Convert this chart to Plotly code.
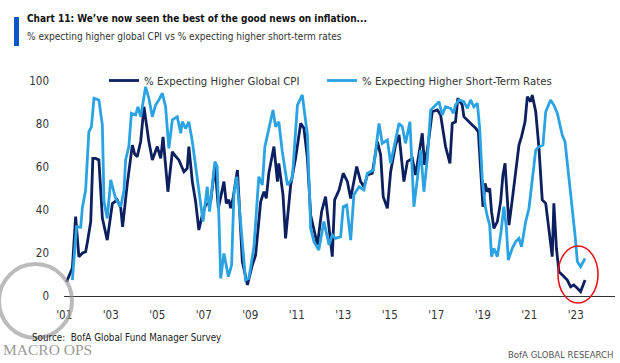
import plotly.graph_objects as go

# --- data (decimal year, % of respondents) ---
cpi_years = [2001.10, 2001.35, 2001.49, 2001.63, 2001.79, 2001.92, 2001.99, 2002.14, 2002.23, 2002.35,
             2002.49, 2002.64, 2002.85, 2003.07, 2003.28, 2003.43, 2003.51, 2003.71, 2003.93, 2004.03,
             2004.14, 2004.29, 2004.43, 2004.54, 2004.64, 2004.79, 2005.00, 2005.15, 2005.25, 2005.46,
             2005.65, 2005.79, 2005.93, 2006.15, 2006.29, 2006.36, 2006.51, 2006.65, 2006.79, 2006.94,
             2007.08, 2007.30, 2007.48, 2007.63, 2007.87, 2007.97, 2008.08, 2008.16, 2008.26, 2008.45,
             2008.66, 2008.88, 2009.09, 2009.23, 2009.45, 2009.59, 2009.69, 2009.80, 2010.02, 2010.17,
             2010.23, 2010.41, 2010.52, 2010.74, 2010.95, 2011.17, 2011.31, 2011.46, 2011.60, 2011.89,
             2012.07, 2012.24, 2012.39, 2012.53, 2012.63, 2012.82, 2013.00, 2013.18, 2013.32, 2013.58,
             2013.75, 2013.89, 2014.04, 2014.25, 2014.47, 2014.61, 2014.72, 2014.90, 2015.04, 2015.25,
             2015.40, 2015.61, 2015.76, 2015.97, 2016.11, 2016.30, 2016.40, 2016.50, 2016.64, 2016.83,
             2017.05, 2017.19, 2017.40, 2017.59, 2017.69, 2017.83, 2017.93, 2018.12, 2018.19, 2018.55,
             2018.70, 2018.81, 2018.91, 2019.01, 2019.10, 2019.20, 2019.30, 2019.38, 2019.48, 2019.63,
             2019.77, 2019.87, 2019.96, 2020.06, 2020.13, 2020.27, 2020.42, 2020.56, 2020.67, 2020.82,
             2020.92, 2021.06, 2021.13, 2021.28, 2021.42, 2021.56, 2021.71, 2021.85, 2021.99, 2022.06,
             2022.17, 2022.28, 2022.49, 2022.64, 2022.78, 2022.92, 2023.07, 2023.21, 2023.40]
cpi_values = [6.6, 13.0, 36.9, 18.3, 20.0, 20.6, 24.6, 34.6, 64.0, 64.0,
              63.3, 36.3, 26.0, 43.0, 44.7, 41.0, 32.2, 52.0, 70.2, 66.0,
              64.8, 72.0, 88.0, 78.0, 71.8, 63.3, 69.5, 64.0, 74.0, 48.5,
              67.1, 65.0, 63.3, 57.8, 59.4, 69.5, 53.2, 44.0, 30.7, 37.7,
              42.3, 43.9, 61.0, 40.8, 53.2, 43.1, 44.7, 40.8, 45.4, 58.6,
              16.0, 5.1, 14.4, 19.0, 43.9, 48.5, 45.4, 57.1, 69.5, 53.2,
              61.7, 47.0, 26.8, 51.6, 64.0, 80.3, 78.0, 64.0, 37.7, 23.7,
              39.2, 46.2, 33.0, 18.3, 44.7, 49.3, 57.1, 53.2, 45.4, 60.2,
              53.2, 50.8, 56.3, 57.1, 71.8, 65.6, 46.2, 40.8, 57.8, 70.2,
              74.9, 53.2, 62.5, 64.0, 56.3, 70.2, 75.7, 61.0, 69.5, 85.7,
              86.5, 84.2, 69.5, 61.7, 80.3, 81.0, 92.0, 88.8, 83.4, 79.5,
              78.0, 76.4, 57.8, 41.5, 52.4, 48.5, 50.1, 39.2, 31.5, 34.6,
              43.9, 56.3, 61.7, 42.3, 33.0, 44.7, 57.1, 70.2, 74.1, 81.0,
              92.7, 90.4, 93.5, 85.7, 68.7, 44.7, 43.1, 29.2, 18.3, 43.1,
              22.2, 11.3, 9.0, 7.4, 4.3, 5.1, 3.6, 2.0, 7.4]

rates_years = [2001.35, 2001.53, 2001.71, 2001.78, 2001.92, 2002.06, 2002.17, 2002.28, 2002.49, 2002.64,
               2002.71, 2002.85, 2003.00, 2003.21, 2003.43, 2003.57, 2003.64, 2003.78, 2003.89, 2004.07,
               2004.17, 2004.29, 2004.50, 2004.64, 2004.79, 2004.93, 2005.07, 2005.22, 2005.36, 2005.50,
               2005.65, 2005.86, 2006.01, 2006.08, 2006.22, 2006.36, 2006.51, 2006.65, 2006.87, 2006.97,
               2007.15, 2007.25, 2007.48, 2007.58, 2007.65, 2007.73, 2007.87, 2008.06, 2008.20, 2008.30,
               2008.42, 2008.59, 2008.80, 2008.94, 2009.16, 2009.37, 2009.52, 2009.63, 2009.80, 2009.98,
               2010.09, 2010.23, 2010.38, 2010.60, 2010.81, 2011.03, 2011.24, 2011.46, 2011.60, 2011.74,
               2011.95, 2012.17, 2012.39, 2012.53, 2012.67, 2012.89, 2013.00, 2013.15, 2013.32, 2013.46,
               2013.68, 2013.89, 2014.04, 2014.30, 2014.39, 2014.54, 2014.68, 2014.90, 2015.04, 2015.21,
               2015.40, 2015.54, 2015.68, 2015.87, 2016.04, 2016.19, 2016.33, 2016.47, 2016.62, 2016.76,
               2016.90, 2017.12, 2017.26, 2017.40, 2017.62, 2017.74, 2017.83, 2017.98, 2018.19, 2018.34,
               2018.48, 2018.62, 2018.77, 2018.87, 2018.98, 2019.10, 2019.20, 2019.30, 2019.38, 2019.48,
               2019.63, 2019.77, 2019.91, 2020.02, 2020.10, 2020.27, 2020.42, 2020.56, 2020.67, 2020.85,
               2020.99, 2021.13, 2021.28, 2021.42, 2021.59, 2021.71, 2021.92, 2022.06, 2022.21, 2022.42,
               2022.54, 2022.71, 2022.85, 2022.97, 2023.07, 2023.21, 2023.40]
rates_values = [7.4, 32.2, 32.0, 41.0, 49.3, 76.4, 78.7, 92.0, 91.2, 79.5,
                43.9, 36.1, 54.0, 45.4, 41.5, 49.3, 63.3, 69.5, 85.0, 84.2,
                88.0, 83.4, 97.3, 92.0, 83.4, 88.8, 91.2, 94.3, 88.0, 68.7,
                81.9, 83.4, 75.7, 81.1, 78.0, 81.0, 71.8, 60.0, 43.9, 34.6,
                50.8, 39.2, 62.5, 60.2, 37.7, 8.2, 19.8, 9.0, 14.4, 47.9,
                55.5, 35.0, 7.4, 8.2, 22.9, 55.5, 51.6, 69.5, 78.0, 86.5,
                78.7, 81.0, 67.1, 51.6, 54.7, 88.8, 93.5, 74.9, 31.5, 25.3,
                21.4, 34.6, 23.7, 28.4, 26.8, 27.6, 41.5, 42.3, 26.0, 47.0,
                50.8, 49.3, 57.1, 58.6, 67.1, 80.3, 71.0, 72.6, 61.7, 71.0,
                80.3, 78.7, 71.0, 81.0, 41.5, 54.7, 67.9, 48.5, 64.0, 86.5,
                88.0, 90.4, 84.2, 88.0, 87.3, 85.0, 88.8, 91.2, 90.4, 87.3,
                91.2, 88.0, 89.6, 78.0, 54.7, 42.3, 36.9, 33.0, 18.3, 22.2,
                18.3, 28.4, 41.5, 31.5, 16.7, 22.2, 25.3, 26.8, 22.9, 34.6,
                40.8, 53.2, 67.9, 69.5, 70.2, 85.7, 91.2, 88.8, 85.0, 74.9,
                71.8, 54.7, 41.5, 28.4, 16.0, 13.6, 17.5]

tick_years = [2001, 2003, 2005, 2007, 2009, 2011, 2013, 2015, 2017, 2019, 2021, 2023]
tick_labels = ["'01", "'03", "'05", "'07", "'09", "'11", "'13", "'15", "'17", "'19", "'21", "'23"]
y_ticks = [0, 20, 40, 60, 80, 100]

FONT = "Liberation Sans Narrow, Arial Narrow, DejaVu Sans Condensed, sans-serif"
NAVY = "#0c1f5e"
LIGHT = "#2ba3e2"

L, R, T, B = 64, 5, 81, 67
W, H = 620, 363
PW, PH = W - L - R, H - T - B

fig = go.Figure()
fig.add_trace(go.Scatter(x=cpi_years, y=cpi_values, mode="lines",
                         name="% Expecting Higher Global CPI", legend="legend",
                         line=dict(color=NAVY, width=2.8)))
fig.add_trace(go.Scatter(x=rates_years, y=rates_values, mode="lines",
                         name="% Expecting Higher Short-Term Rates", legend="legend2",
                         line=dict(color=LIGHT, width=2.8)))

def px2x(px):
    return (px - L) / PW

def py2y(py):
    return (H - B - py) / PH

shapes = [
    # blue title bar
    dict(type="rect", xref="paper", yref="paper", x0=px2x(14), x1=px2x(19), y0=py2y(46), y1=py2y(17),
         fillcolor="#0b55c6", line=dict(width=0)),
    # red highlight ellipse
    dict(type="circle", xref="paper", yref="paper", x0=px2x(558), x1=px2x(598), y0=py2y(303), y1=py2y(246),
         line=dict(color="#e8141c", width=1.6)),
    # watermark circle
    dict(type="circle", xref="paper", yref="paper", x0=px2x(-1), x1=px2x(72), y0=py2y(338), y1=py2y(264),
         line=dict(color="rgba(150,150,150,0.65)", width=4)),
]

annotations = [
    dict(text="<b>Chart 11: We\u2019ve now seen the best of the good news on inflation...</b>",
         xref="paper", yref="paper", x=px2x(25), y=py2y(19), xanchor="left", yanchor="middle",
         showarrow=False, font=dict(family=FONT, size=10, color="#111111")),
    dict(text="% expecting higher global CPI vs % expecting higher short-term rates",
         xref="paper", yref="paper", x=px2x(25), y=py2y(37), xanchor="left", yanchor="middle",
         showarrow=False, font=dict(family=FONT, size=10, color="#333333")),
    dict(text="Source:  BofA Global Fund Manager Survey",
         xref="paper", yref="paper", x=px2x(30), y=py2y(337), xanchor="left", yanchor="middle",
         showarrow=False, font=dict(family=FONT, size=9.8, color="#222222")),
    dict(text="BofA GLOBAL RESEARCH",
         xref="paper", yref="paper", x=px2x(615), y=py2y(354), xanchor="right", yanchor="middle",
         showarrow=False, font=dict(family=FONT, size=9.5, color="#555555")),
    dict(text="MACRO OPS",
         xref="paper", yref="paper", x=px2x(1), y=py2y(349), xanchor="left", yanchor="middle",
         showarrow=False, font=dict(family="Liberation Serif, DejaVu Serif, serif", size=15.5, color="#9a9a9a")),
]

legend_common = dict(orientation="h", yanchor="top", bgcolor="rgba(0,0,0,0)",
                     font=dict(family=FONT, size=11.3, color="#333333"), itemwidth=30)

fig.update_layout(
    width=W, height=H,
    margin=dict(l=L, r=R, t=T, b=B, autoexpand=False),
    paper_bgcolor="white", plot_bgcolor="white",
    font=dict(family=FONT, size=11.5, color="#333333"),
    showlegend=True,
    legend=dict(x=px2x(104), y=py2y(66), xanchor="left", **legend_common),
    legend2=dict(x=px2x(322), y=py2y(66), xanchor="left", **legend_common),
    shapes=shapes,
    annotations=annotations,
    xaxis=dict(range=[2000.99, 2024.69], tickmode="array", tickvals=tick_years, ticktext=tick_labels,
               showgrid=False, zeroline=False, showline=True, linecolor="#333333", linewidth=1,
               ticks="", ticklabelstandoff=8, tickfont=dict(family=FONT, size=11.5, color="#333333")),
    yaxis=dict(range=[0, 100], tickmode="array", tickvals=y_ticks, showgrid=False, zeroline=False,
               showline=False, ticks="", ticklabelstandoff=14,
               tickfont=dict(family=FONT, size=11.5, color="#333333")),
)

fig.write_html("out.html", config={"displayModeBar": False},
               post_script="document.body.style.margin='0px';")
